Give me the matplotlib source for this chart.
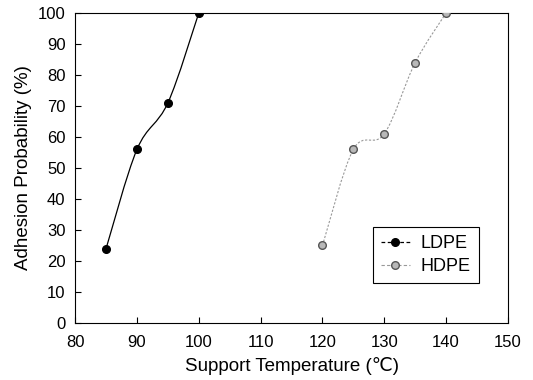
import matplotlib
matplotlib.use("Agg")
import matplotlib.pyplot as plt
import numpy as np
from matplotlib.path import Path
from matplotlib.patches import PathPatch
from matplotlib.lines import Line2D

plt.rcParams["font.family"] = ["Liberation Sans", "DejaVu Sans"]

ldpe_t = [85, 90, 95, 100]
ldpe_p = [24, 56, 71, 100]
hdpe_t = [120, 125, 130, 135, 140]
hdpe_p = [25, 56, 61, 84, 100]


def smooth_path(x, y):
    # Catmull-Rom as cubic Bezier segments through the data points
    x = np.asarray(x, float); y = np.asarray(y, float)
    pts = np.column_stack([x, y])
    verts = [pts[0]]; codes = [Path.MOVETO]
    for i in range(len(pts) - 1):
        p0 = pts[i - 1] if i > 0 else pts[i]
        p1, p2 = pts[i], pts[i + 1]
        p3 = pts[i + 2] if i + 2 < len(pts) else pts[i + 1]
        c1 = p1 + (p2 - p0) / 6.0
        c2 = p2 - (p3 - p1) / 6.0
        verts += [c1, c2, p2]; codes += [Path.CURVE4] * 3
    return Path(verts, codes)


fig = plt.figure(figsize=(5.33, 3.8), dpi=100)
ax = fig.add_axes([0.141, 0.15, 0.812, 0.816])

ax.add_patch(PathPatch(smooth_path(ldpe_t, ldpe_p), fill=False,
                       color="black", lw=0.9))
ax.add_patch(PathPatch(smooth_path(hdpe_t, hdpe_p), fill=False,
                       color="#999999", lw=0.8, ls=(0, (2, 1.5))))
ax.plot(ldpe_t, ldpe_p, "o", color="black", ms=5.5, zorder=3)
ax.plot(hdpe_t, hdpe_p, "o", mfc="#b8b8b8", mec="#555555", mew=1.0,
        ms=5.5, zorder=3)

ax.set_xlim(80, 150)
ax.set_ylim(0, 100)
ax.set_xticks(range(80, 151, 10))
ax.set_yticks(range(0, 101, 10))
ax.tick_params(direction="in", length=4, labelsize=12, width=0.8)
ax.tick_params(axis="x", pad=8.5)
ax.tick_params(axis="y", pad=7)
for s in ax.spines.values():
    s.set_linewidth(0.8)
ax.set_xlabel("Support Temperature (\u2103)", fontsize=13.5, labelpad=5)
ax.set_ylabel("Adhesion Probability (%)", fontsize=13.5, labelpad=4)

handles = [
    Line2D([], [], color="black", lw=0.9, ls=(0, (3, 2)), marker="o", ms=5.5),
    Line2D([], [], color="#999999", lw=0.8, ls=(0, (3, 2)), marker="o",
           mfc="#b8b8b8", mec="#555555", ms=5.5),
]
leg = ax.legend(handles, ["LDPE", "HDPE"], loc="lower right",
                bbox_to_anchor=(0.953, 0.10), fontsize=13, fancybox=False,
                edgecolor="black", handlelength=1.6, handletextpad=0.6,
                borderpad=0.45, labelspacing=0.3, framealpha=1)
leg.get_frame().set_linewidth(0.8)

fig.savefig("out.png", dpi=100, facecolor="white")
